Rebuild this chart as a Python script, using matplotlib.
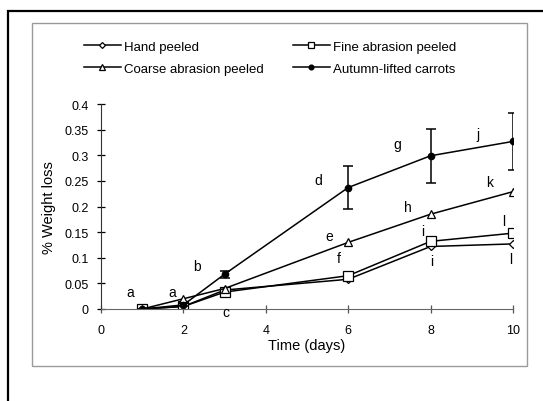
import matplotlib
matplotlib.use('Agg')
import matplotlib.pyplot as plt
from matplotlib.patches import Rectangle

plt.rcParams['font.family'] = ['Liberation Sans', 'DejaVu Sans']

# data
days = [1, 2, 3, 6, 8, 10]
hand = [0, 0.005, 0.037, 0.058, 0.122, 0.127]
fine = [0, 0.005, 0.033, 0.065, 0.132, 0.148]
coarse = [0, 0.020, 0.040, 0.130, 0.185, 0.229]
autumn = [0, 0.008, 0.068, 0.237, 0.299, 0.327]
autumn_err = [0, 0.003, 0.007, 0.042, 0.053, 0.056]

letters = ['a', 'a', 'b', 'c', 'd', 'e', 'f', 'g', 'h', 'i', 'i', 'j', 'k', 'l', 'l']
letter_x = [0.72, 1.72, 2.33, 3.02, 5.28, 5.54, 5.78, 7.2, 7.44, 7.82, 8.02, 9.15, 9.43, 9.77, 9.95]
letter_y = [0.033, 0.033, 0.083, -0.006, 0.252, 0.143, 0.099, 0.322, 0.2, 0.153, 0.094, 0.341, 0.247, 0.172, 0.098]

xticks = [0, 2, 4, 6, 8, 10]
yticks = [0, 0.05, 0.1, 0.15, 0.2, 0.25, 0.3, 0.35, 0.4]
ytick_labels = ['0', '0.05', '0.1', '0.15', '0.2', '0.25', '0.3', '0.35', '0.4']

fig = plt.figure(figsize=(5.43, 4.02), dpi=100)
W, H = 543, 402

# outer black frame and grey chart box
fig.patches.append(Rectangle((8 / W, -0.1), 1.2, 1.1 - 12 / H, transform=fig.transFigure,
                             fill=False, edgecolor='black', linewidth=1.6))
fig.patches.append(Rectangle((32 / W, 1 - 367 / H), (527 - 32) / W, (367 - 24) / H,
                             transform=fig.transFigure, fill=False,
                             edgecolor='#9a9a9a', linewidth=1.0))

ax = fig.add_axes([101 / W, 1 - 310 / H, (513 - 101) / W, (310 - 105) / H])

lw = 1.1
h1, = ax.plot(days, hand, '-D', color='black', lw=lw, ms=4, mfc='white', mew=0.9)
h2, = ax.plot(days, fine, '-s', color='black', lw=lw, ms=6.5, mfc='white', mew=0.9)
h3, = ax.plot(days, coarse, '-^', color='black', lw=lw, ms=6, mfc='white', mew=0.9)
h4 = ax.errorbar(days, autumn, yerr=autumn_err, fmt='-o', color='black', lw=lw,
                 ms=4.5, capsize=3.8, elinewidth=1.1, capthick=1.1)

for t, x, y in zip(letters, letter_x, letter_y):
    ax.text(x, y, t, fontsize=10, ha='center', va='center')

ax.set_xlim(0, 10)
ax.set_ylim(0, 0.4)
ax.set_xticks(xticks)
ax.set_yticks(yticks)
ax.set_yticklabels(ytick_labels)
for s in ['top', 'right']:
    ax.spines[s].set_visible(False)
ax.spines['left'].set_color('#333333')
ax.spines['bottom'].set_color('#666666')
ax.tick_params(direction='inout', length=6, width=0.9, labelsize=9, pad=6)
ax.tick_params(axis='x', colors='#555555', labelcolor='black', pad=8)
ax.set_xlabel('Time (days)', fontsize=10.5, labelpad=1)
ax.set_ylabel('% Weight loss', fontsize=10.5, labelpad=6)

fig.legend([h1, h3, h2, h4[0]],
           ['Hand peeled', 'Coarse abrasion peeled', 'Fine abrasion peeled', 'Autumn-lifted carrots'],
           ncol=2, frameon=False, fontsize=9.5, handlelength=2.8, handletextpad=0.25,
           columnspacing=2.2, labelspacing=0.7, markerscale=0.75, loc='upper left',
           bbox_to_anchor=(72 / W, 1 - 30 / H))

fig.savefig('out.png', dpi=100)
